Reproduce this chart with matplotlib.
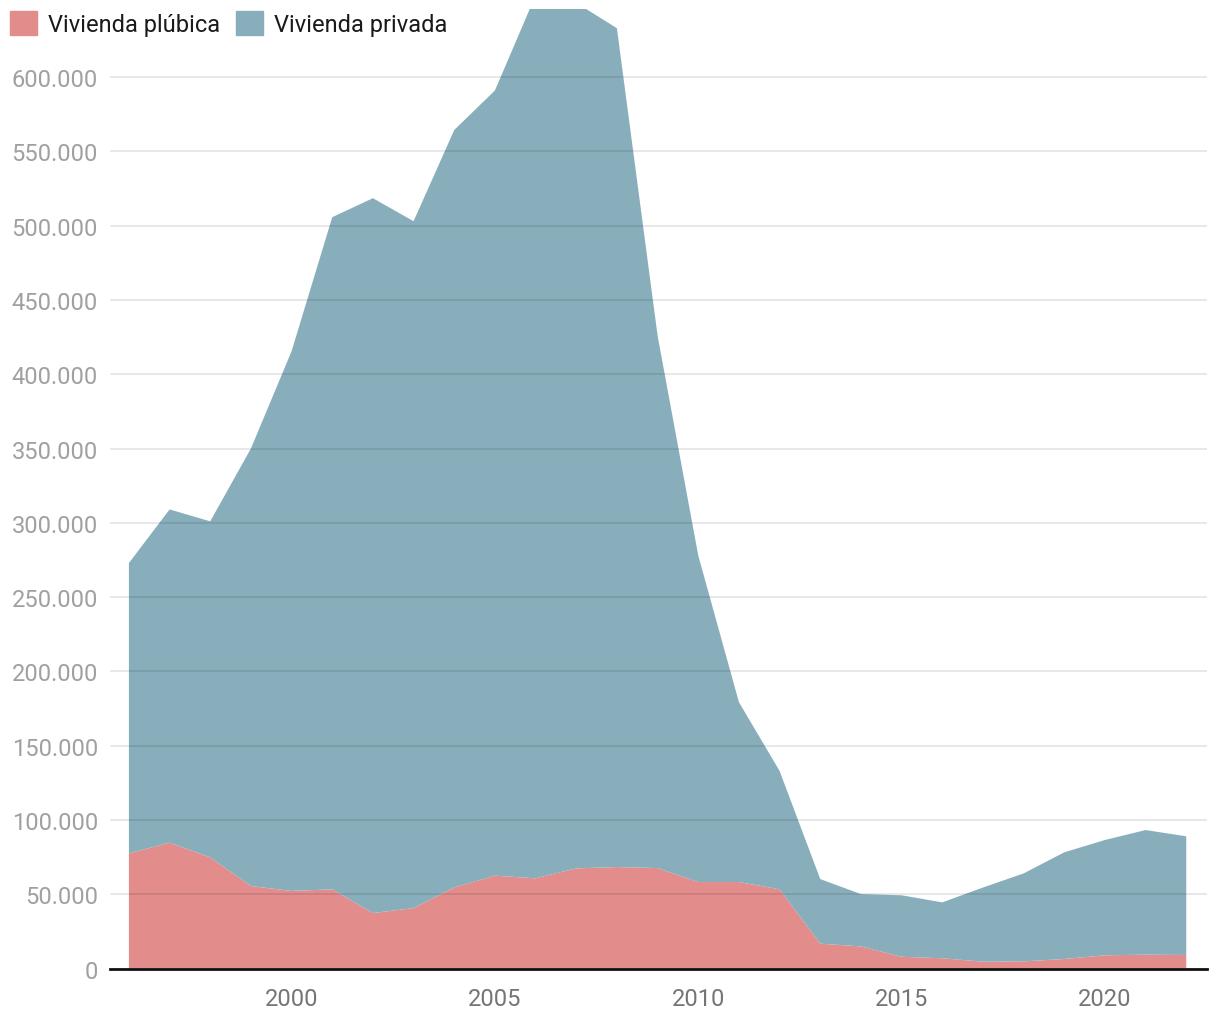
import numpy as np
import matplotlib.pyplot as plt
from matplotlib.patches import Patch
from matplotlib.ticker import FuncFormatter

plt.rcParams['font.family'] = ['Roboto', 'DejaVu Sans']

years = np.arange(1996, 2023)
publica = [77500, 84700, 74800, 55500, 52200, 53300, 37300, 40700, 54600, 62500,
           60700, 67400, 68300, 67600, 58200, 58200, 53300, 16700, 14900, 7900,
           6900, 4600, 4800, 6400, 8900, 9300, 9100]
total = [272900, 309000, 301000, 350000, 415500, 505700, 518500, 503000, 564400, 591000,
         655000, 650000, 632900, 426000, 278000, 179300, 133000, 60200, 50100, 49300,
         44500, 54500, 64000, 78200, 86500, 93200, 89000]
privada = [t - p for t, p in zip(total, publica)]

c_pub = '#e28c8b'
c_priv = '#89aebb'

fig = plt.figure(figsize=(12.2, 10.2), dpi=100)
ax = fig.add_axes([0.090, 0.0495, 0.899, 0.9405])

ax.stackplot(years, publica, privada, colors=[c_pub, c_priv], linewidth=0, zorder=1)

ax.set_xlim(1995.53, 2022.5)
ax.set_ylim(0, 645700)
ax.set_yticks(np.arange(0, 600001, 50000))
ax.yaxis.set_major_formatter(FuncFormatter(lambda v, p: f'{int(v):,}'.replace(',', '.')))
ax.set_xticks([2000, 2005, 2010, 2015, 2020])

ax.grid(axis='y', color='black', alpha=0.11, linewidth=1.2, zorder=2)
ax.set_axisbelow(False)
for s in ['top', 'right', 'left']:
    ax.spines[s].set_visible(False)
ax.spines['bottom'].set_color('#111111')
ax.spines['bottom'].set_linewidth(2)
ax.spines['bottom'].set_zorder(3)
ax.tick_params(length=0)
ax.tick_params(axis='y', labelsize=17, labelcolor='#a0a0a0', pad=8.5)
ax.tick_params(axis='x', labelsize=17, labelcolor='#757575', pad=13)

handles = [Patch(color=c_pub, label='Vivienda plúbica'),
           Patch(color=c_priv, label='Vivienda privada')]
fig.legend(handles=handles, loc='upper left', bbox_to_anchor=(0.0082, 0.988), ncol=2,
           frameon=False, fontsize=17, handlelength=1.15, handleheight=1.15,
           handletextpad=0.45, columnspacing=0.68, borderaxespad=0, borderpad=0,
           labelcolor='#1a1a1a')

fig.savefig('out.png', dpi=100)
